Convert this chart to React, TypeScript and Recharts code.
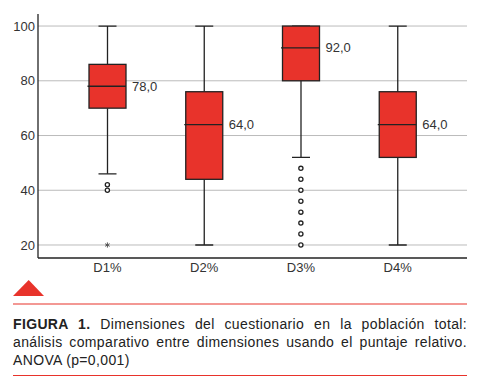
import { ComposedChart, Bar, Scatter, XAxis, YAxis, CartesianGrid } from "recharts";

// Box plot summary per dimension (relative score, %)
const categories = ["D1%", "D2%", "D3%", "D4%"];
const whiskerLow = [46, 20, 52, 20];
const q1 = [70, 44, 80, 52];
const medians = [78, 64, 92, 64];
const q3 = [86, 76, 100, 76];
const whiskerHigh = [100, 100, 100, 100];

// outliers (circles) and extremes (asterisk)
const outlierCats = ["D1%", "D1%", "D3%", "D3%", "D3%", "D3%", "D3%", "D3%", "D3%", "D3%"];
const outlierValues = [42, 40, 48, 44, 40, 36, 32, 28, 24, 20];
const extremeCats = ["D1%"];
const extremeValues = [20];

const yTicks = [20, 40, 60, 80, 100];

const RED = "#e8332b";
const DARK = "#222";
const FONT = "Liberation Sans, Arial, sans-serif";

const data = categories.map((name, i) => ({
  name,
  range: [whiskerLow[i], whiskerHigh[i]],
  low: whiskerLow[i],
  q1: q1[i],
  median: medians[i],
  q3: q3[i],
  high: whiskerHigh[i],
}));

const points = [
  ...outlierCats.map((name, i) => ({ name, value: outlierValues[i], kind: "out" })),
  ...extremeCats.map((name, i) => ({ name, value: extremeValues[i], kind: "ext" })),
];

const BoxShape = (props: any) => {
  const { x, y, width, height, payload } = props;
  const { low, high } = payload;
  const py = (v: number) => y + (height * (high - v)) / (high - low);
  const cx = x + width / 2;
  const cap = 9;
  return (
    <g>
      <line x1={cx} x2={cx} y1={py(high)} y2={py(payload.q3)} stroke={DARK} strokeWidth={1.3} />
      <line x1={cx} x2={cx} y1={py(payload.q1)} y2={py(low)} stroke={DARK} strokeWidth={1.3} />
      <line x1={cx - cap} x2={cx + cap} y1={py(high)} y2={py(high)} stroke={DARK} strokeWidth={1.3} />
      <line x1={cx - cap} x2={cx + cap} y1={py(low)} y2={py(low)} stroke={DARK} strokeWidth={1.3} />
      <rect
        x={x}
        y={py(payload.q3)}
        width={width}
        height={py(payload.q1) - py(payload.q3)}
        fill={RED}
        stroke={DARK}
        strokeWidth={1.3}
      />
      <line x1={x - 1.5} x2={x + width} y1={py(payload.median)} y2={py(payload.median)} stroke={DARK} strokeWidth={1.3} />
      <text x={x + width + 6} y={py(payload.median)} dy="0.35em" fontSize={13} fill="#333" fontFamily={FONT}>
        {payload.median.toFixed(1).replace(".", ",")}
      </text>
    </g>
  );
};

const PointShape = (props: any) => {
  const { cx, cy, payload } = props;
  if (payload.kind === "ext") {
    const r = 2.6;
    return (
      <g stroke="#555" strokeWidth={1}>
        <line x1={cx} x2={cx} y1={cy - r} y2={cy + r} />
        <line x1={cx - r * 0.87} x2={cx + r * 0.87} y1={cy - r * 0.5} y2={cy + r * 0.5} />
        <line x1={cx - r * 0.87} x2={cx + r * 0.87} y1={cy + r * 0.5} y2={cy - r * 0.5} />
      </g>
    );
  }
  return <circle cx={cx} cy={cy} r={2.1} fill="#fff" stroke={DARK} strokeWidth={1.3} />;
};

const tickStyle = { fontSize: 13, fill: "#333", fontFamily: FONT };

export default function App() {
  return (
    <div style={{ position: "absolute", left: 0, top: 0, width: 479, height: 392, background: "#fff" }}>
      <ComposedChart width={479} height={280} data={data} margin={{ top: 14, right: 12, left: 0, bottom: 0 }}>
        <CartesianGrid vertical={false} horizontalValues={yTicks} stroke="#bbb" strokeWidth={1} />
        <XAxis
          dataKey="name"
          type="category"
          allowDuplicatedCategory={false}
          padding={{ left: 21, right: 21 }}
          tickLine={false}
          tickSize={0}
          tickMargin={5}
          height={22}
          axisLine={{ stroke: DARK, strokeWidth: 1.3 }}
          tick={tickStyle}
        />
        <YAxis
          type="number"
          domain={[15.25, 104.4]}
          ticks={yTicks}
          allowDataOverflow
          width={38}
          tickLine={false}
          tickSize={0}
          tickMargin={3}
          axisLine={{ stroke: DARK, strokeWidth: 1.3 }}
          tick={tickStyle}
        />
        <Bar dataKey="range" barSize={37} shape={BoxShape} isAnimationActive={false} />
        <Scatter data={points} dataKey="value" shape={PointShape} isAnimationActive={false} />
      </ComposedChart>
      <svg width={479} height={30} style={{ position: "absolute", left: 0, top: 276 }}>
        <polygon points="13,20 28.7,4 44,20" fill={RED} />
        <line x1={13} x2={467} y1={28} y2={28} stroke={RED} strokeWidth={1.2} />
      </svg>
      <div
        style={{
          position: "absolute",
          left: 13,
          top: 315,
          width: 454,
          fontFamily: FONT,
          fontSize: 14,
          lineHeight: "18px",
          letterSpacing: 0.35,
          color: "#222",
        }}
      >
        <div style={{ textAlign: "justify", textAlignLast: "justify" }}>
          <b>FIGURA 1.</b> Dimensiones del cuestionario en la población total:
        </div>
        <div style={{ textAlign: "justify", textAlignLast: "justify" }}>
          análisis comparativo entre dimensiones usando el puntaje relativo.
        </div>
        <div>ANOVA (p=0,001)</div>
      </div>
      <div style={{ position: "absolute", left: 13, top: 375, width: 454, height: 1, background: RED }} />
    </div>
  );
}
